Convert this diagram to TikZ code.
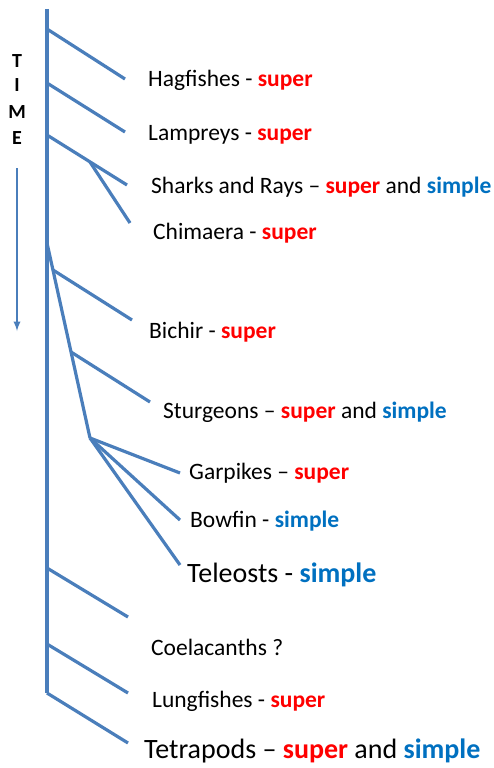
\documentclass[tikz,border=0pt]{standalone}
\usepackage{fontspec}
\setmainfont{Carlito}
\usepackage{tikz}
\usetikzlibrary{calc}

\definecolor{linblue}{HTML}{4A7EBB}
\definecolor{supred}{HTML}{FF0000}
\definecolor{simblue}{HTML}{0070C0}
\newcommand{\super}{\textbf{\color{supred}super}}
\newcommand{\simple}{\textbf{\color{simblue}simple}}
\tikzset{
    branch/.style={draw=linblue, line width=3.2pt},
    taxon/.style={anchor=west, inner sep=0pt, font=\fontsize{23.5}{27}\selectfont},
    bigtaxon/.style={taxon, font=\fontsize{28}{32}\selectfont},
    timeletter/.style={font=\fontsize{20}{23}\selectfont\bfseries},
}

\begin{document}
\begin{tikzpicture}[x=1pt,y=-1pt]
        \useasboundingbox (0,0) rectangle (494,768);
        % time axis
        \node[timeletter] (t) at (17,61) {T};
        \node[timeletter] (i) at (17,85) {I};
        \node[timeletter] (m) at (17,112) {M};
        \node[timeletter] (e) at (17,138) {E};
        \coordinate (arrtop) at (17,168);
        \coordinate (arrbot) at (17,331);
        \draw[draw=linblue, line width=2.2pt, -latex] (arrtop) -- (arrbot);
        % trunk
        \coordinate (top) at (47,9);
        \coordinate (bot) at (47,693);
        \draw[branch] (top) -- (bot);
        % jawless + cartilaginous
        \coordinate (n1) at (47,29);   \coordinate (hag) at (125,79);
        \coordinate (n2) at (47,83);   \coordinate (lam) at (125,132);
        \coordinate (n3) at (47,135);  \coordinate (sha) at (127,185);
        \coordinate (n4) at (90,162);  \coordinate (chi) at (130,223);
        \draw[branch] (n1) -- (hag);
        \draw[branch] (n2) -- (lam);
        \draw[branch] (n3) -- (sha);
        \draw[branch] (n4) -- (chi);
        % ray-finned
        \coordinate (r0) at (47,243);
        \coordinate (r1) at (53,270);  \coordinate (bic) at (132,320);
        \coordinate (r2) at (71,352);  \coordinate (stu) at (150,402);
        \coordinate (r3) at (90,438);
        \coordinate (gar) at (180,473);
        \coordinate (bow) at (180,520);
        \coordinate (tel) at (180,565);
        \draw[branch] (r0) -- (r3);
        \draw[branch] (r1) -- (bic);
        \draw[branch] (r2) -- (stu);
        \draw[branch] (r3) -- (gar);
        \draw[branch] (r3) -- (bow);
        \draw[branch] (r3) -- (tel);
        % lobe-finned
        \coordinate (l1) at (47,568);  \coordinate (coe) at (128,617);
        \coordinate (l2) at (47,644);  \coordinate (lun) at (128,693);
        \coordinate (tet) at (128,743);
        \draw[branch] (l1) -- (coe);
        \draw[branch] (l2) -- (lun);
        \draw[branch] (bot) -- (tet);
        % labels
        \node[taxon] (hagfish) at (148,80) {Hagfishes - \super};
        \node[taxon] (lamprey) at (148,135) {Lampreys - \super};
        \node[taxon] (shark) at (151,187) {Sharks and Rays -- \super{} and \simple};
        \node[taxon] (chimaera) at (153,233) {Chimaera - \super};
        \node[taxon] (bichir) at (149,332) {Bichir - \super};
        \node[taxon] (sturgeon) at (163,412) {Sturgeons -- \super{} and \simple};
        \node[taxon] (garpike) at (189,473) {Garpikes -- \super};
        \node[taxon] (bowfin) at (190,521) {Bowfin - \simple};
        \node[bigtaxon] (teleost) at (187,575) {Teleosts - \simple};
        \node[taxon] (coelacanth) at (151,647) {Coelacanths ?};
        \node[taxon] (lungfish) at (152,701) {Lungfishes - \super};
        \node[bigtaxon] (tetrapod) at (144,751) {Tetrapods -- \super{} and \simple};
    \end{tikzpicture}
\end{document}
